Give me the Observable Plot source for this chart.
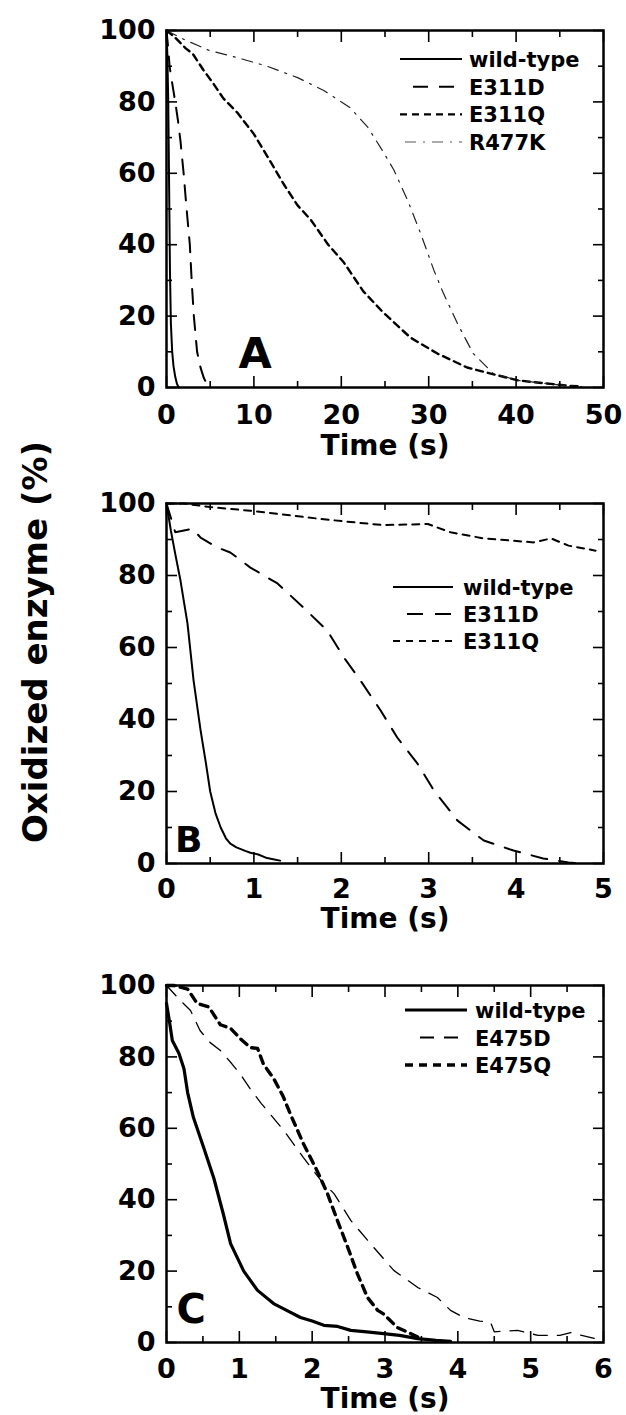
<!DOCTYPE html>
<html><head><meta charset="utf-8">
<script src="https://cdn.jsdelivr.net/npm/d3@7"></script>
<script src="https://cdn.jsdelivr.net/npm/@observablehq/plot@0.6"></script>
<style>
body{margin:0;background:#fff;}
#page{position:relative;width:626px;height:1415px;font-family:"DejaVu Sans",Verdana,sans-serif;font-weight:bold;background:#fff;}
.panel{position:absolute;left:0;}
#ylab{position:absolute;left:35px;top:642px;transform:translate(-50%,-50%) rotate(-90deg);white-space:nowrap;font-size:34px;font-weight:bold;color:#000;}
#legend{position:absolute;left:0;top:0;pointer-events:none;}
</style></head><body><div id="page"></div>
<script>
// ---------- DATA ----------
// Panel A (time in s, oxidized enzyme %)
const seriesA = ["wild-type", "E311D", "E311Q", "R477K"];
const tA_wt = [0, 0.1, 0.2, 0.3, 0.4, 0.5, 0.65, 0.8, 1.0, 1.2, 1.4];
const vA_wt = [100, 93, 80, 56, 32, 18, 10, 6, 3, 1, 0];
const tA_D = [0, 0.2, 0.35, 0.6, 0.8, 1.0, 1.3, 1.6, 1.96, 2.3, 2.67, 2.9, 3.13, 3.5, 3.9, 4.3, 4.65, 4.9];
const vA_D = [100, 95, 90, 86, 83, 80, 75, 69, 60, 50, 40, 29, 20, 10, 5.5, 2.5, 1, 0];
const tA_Q = [0, 1, 2.2, 3, 4.2, 5.4, 6.5, 8.1, 10, 12.2, 13.4, 15, 16.5, 18.5, 20.3, 22.5, 24.8, 27.9, 31, 34.4, 37.9, 40.2, 42, 44, 46, 47.5];
const vA_Q = [100, 98, 95, 93.5, 89, 85, 81, 77, 71, 62, 57, 51, 47, 40, 35, 27, 21, 14, 9.5, 5.6, 3.4, 2, 1.5, 1, 0.5, 0.3];
const tA_K = [0, 2, 4.8, 8.1, 11.5, 15, 18, 21, 23, 24.8, 26, 27.6, 29.1, 30.6, 31.7, 33.3, 35.1, 37.4, 40.2, 43, 46, 47.5];
const vA_K = [100, 97.5, 94.5, 92.4, 90, 86.8, 83.2, 78.4, 73, 66, 61, 52.4, 43, 32.8, 26.3, 17.9, 9.5, 3.9, 2, 1.2, 0.5, 0.2];

// Panel B
const seriesB = ["wild-type", "E311D", "E311Q"];
const tB_wt = [0, 0.05, 0.1, 0.16, 0.24, 0.31, 0.39, 0.45, 0.5, 0.56, 0.62, 0.68, 0.73, 0.8, 0.9, 0.96, 1.05, 1.15, 1.22, 1.3];
const vB_wt = [100, 92.5, 86, 78.6, 66.7, 50.8, 37, 28, 20, 14, 10, 7, 5.5, 4.5, 3.5, 3, 2.5, 1.5, 1.2, 0.8];
const tB_D = [0, 0.05, 0.1, 0.2, 0.3, 0.39, 0.58, 0.73, 0.96, 1.27, 1.57, 1.84, 2.03, 2.22, 2.45, 2.64, 2.87, 3.06, 3.33, 3.63, 3.97, 4.31, 4.6, 4.75];
const vB_D = [100, 96, 92, 92.5, 93, 90.5, 87.8, 86.4, 82.2, 77.8, 71, 64.7, 57.2, 50.8, 42.5, 35, 27.8, 20.3, 11.9, 6.4, 3.6, 1.4, 0.3, 0];
const tB_Q = [0, 0.2, 0.5, 0.96, 1.8, 2.48, 2.99, 3.25, 3.63, 4.2, 4.4, 4.6, 4.91];
const vB_Q = [100, 100, 99, 98, 95.6, 94, 94.3, 92, 90.3, 89.2, 90.3, 88.3, 86.9];

// Panel C
const seriesC = ["wild-type", "E475D", "E475Q"];
const tC_wt = [0, 0.04, 0.08, 0.17, 0.24, 0.29, 0.37, 0.51, 0.65, 0.78, 0.88, 1.06, 1.25, 1.47, 1.65, 1.84, 2.0, 2.16, 2.35, 2.53, 2.75, 2.98, 3.2, 3.45, 3.7, 3.9];
const vC_wt = [95, 90, 84.6, 81, 76.7, 70, 63, 54.6, 46, 36, 27.7, 20, 14.6, 10.9, 9, 7, 6, 4.8, 4.5, 3.4, 3, 2.5, 2, 1.1, 0.6, 0.3];
const tC_D = [0, 0.19, 0.33, 0.46, 0.6, 0.74, 0.9, 1.02, 1.15, 1.3, 1.61, 1.88, 2.12, 2.3, 2.53, 2.8, 3.12, 3.45, 3.72, 3.9, 4.08, 4.3, 4.45, 4.5, 4.82, 5.1, 5.4, 5.55, 5.7, 6.0];
const vC_D = [100, 95.8, 93, 87.4, 84, 81.8, 78, 75, 71, 67, 59.4, 51.8, 45.4, 41.7, 34.2, 27.7, 20.2, 15.4, 12.6, 9, 7, 6, 5.6, 3, 3.4, 2, 2, 2.8, 2, 0.5];
const tC_Q = [0, 0.1, 0.29, 0.42, 0.58, 0.74, 0.88, 1.02, 1.15, 1.25, 1.33, 1.47, 1.6, 1.7, 1.88, 2.07, 2.21, 2.35, 2.49, 2.62, 2.76, 2.9, 2.98, 3.17, 3.35, 3.45];
const vC_Q = [100, 100, 99, 95, 94, 89, 88, 85, 82.6, 82.4, 78, 74, 69, 64, 55.7, 48, 41.7, 34, 26.6, 19.3, 12.6, 9, 8, 4.2, 2.5, 1.5];

// Axis ticks
const yMajor = [0, 20, 40, 60, 80, 100];
const yMinor = [10, 30, 50, 70, 90];
const xMajorA = [0, 10, 20, 30, 40, 50];
const xMinorA = [5, 15, 25, 35, 45];
const xMajorB = [0, 1, 2, 3, 4, 5];
const xMinorB = [0.5, 1.5, 2.5, 3.5, 4.5];
const xMajorC = [0, 1, 2, 3, 4, 5, 6];
const xMinorC = [0.5, 1.5, 2.5, 3.5, 4.5, 5.5];
const xTitle = "Time (s)";
const yTitle = "Oxidized enzyme (%)";
const letters = ["A", "B", "C"];

// ---------- STYLES / LAYOUT ----------
const pts = (ts, vs) => ts.map((t, i) => ({t, v: vs[i]}));
const FONT = "DejaVu Sans, Verdana, sans-serif";
const W = 626, ML = 166, MR = 23;

const panels = [
  {top: 0, height: 470, mt: 30, mb: 83, xmax: 50, xMajor: xMajorA, xMinor: xMinorA, xPad: 17, titleDy: 48,
   letter: letters[0], letterSize: 43, letterDx: 72, letterDy: -50.5,
   names: seriesA,
   lines: [
     {data: pts(tA_wt, vA_wt), stroke: "#000", w: 2, dash: null},
     {data: pts(tA_D, vA_D), stroke: "#000", w: 2, dash: "15,11"},
     {data: pts(tA_Q, vA_Q), stroke: "#000", w: 2.4, dash: "7,5"},
     {data: pts(tA_K, vA_K), stroke: "#222", w: 1.2, dash: "11,7,2,7", legendStroke: "#aaa", legendW: 2}
   ],
   legend: {x1: 400, x2: 462, tx: 469, y0: 59, dy: 27.7, size: 21, offs: [0, 13, 0, 5]}},
  {top: 470, height: 470, mt: 33, mb: 77, xmax: 5, xMajor: xMajorB, xMinor: xMinorB, xPad: 15, titleDy: 45,
   letter: letters[1], letterSize: 36, letterDx: 8.5, letterDy: -36.6,
   names: seriesB,
   lines: [
     {data: pts(tB_wt, vB_wt), stroke: "#000", w: 2, dash: null},
     {data: pts(tB_D, vB_D), stroke: "#000", w: 2, dash: "16,12"},
     {data: pts(tB_Q, vB_Q), stroke: "#000", w: 2, dash: "7,6"}
   ],
   legend: {x1: 393, x2: 453, tx: 463, y0: 587, dy: 27, size: 21, offs: [0, 14, 0]}},
  {top: 940, height: 475, mt: 45, mb: 73, xmax: 6, xMajor: xMajorC, xMinor: xMinorC, xPad: 16, titleDy: 46,
   letter: letters[2], letterSize: 40, letterDx: 10, letterDy: -48.4,
   names: seriesC,
   lines: [
     {data: pts(tC_wt, vC_wt), stroke: "#000", w: 3.2, dash: null},
     {data: pts(tC_D, vC_D), stroke: "#000", w: 1.3, dash: "14,10"},
     {data: pts(tC_Q, vC_Q), stroke: "#000", w: 3.4, dash: "8,6"}
   ],
   legend: {x1: 405, x2: 467, tx: 475, y0: 1010, dy: 27.5, size: 21, offs: [0, 15, 0]}}
];

const page = document.getElementById("page");
const fmt = d => String(d);

for (const p of panels) {
  const tickStyle = {strokeWidth: 1.6, tickFormat: () => "", label: null};
  const chart = Plot.plot({
    width: W, height: p.height,
    marginLeft: ML, marginRight: MR, marginTop: p.mt, marginBottom: p.mb,
    style: {fontFamily: FONT, fontWeight: "bold", background: "transparent", overflow: "visible"},
    x: {domain: [0, p.xmax]},
    y: {domain: [0, 100]},
    marks: [
      ...p.lines.map(l => Plot.line(l.data, {x: "t", y: "v", stroke: l.stroke, strokeWidth: l.w, strokeDasharray: l.dash, strokeLinejoin: "round"})),
      Plot.axisX({anchor: "bottom", ticks: p.xMajor, tickSize: -11, ...tickStyle}),
      Plot.axisX({anchor: "bottom", ticks: p.xMinor, tickSize: -6, ...tickStyle}),
      Plot.axisX({anchor: "top", ticks: p.xMajor, tickSize: -11, ...tickStyle}),
      Plot.axisX({anchor: "top", ticks: p.xMinor, tickSize: -6, ...tickStyle}),
      Plot.axisY({anchor: "left", ticks: yMajor, tickSize: -11, ...tickStyle}),
      Plot.axisY({anchor: "left", ticks: yMinor, tickSize: -6, ...tickStyle}),
      Plot.axisY({anchor: "right", ticks: yMajor, tickSize: -11, ...tickStyle}),
      Plot.axisY({anchor: "right", ticks: yMinor, tickSize: -6, ...tickStyle}),
      Plot.axisX({anchor: "bottom", ticks: p.xMajor, tickFormat: fmt, tickSize: 0, tickPadding: p.xPad, fontSize: 27, fontWeight: "bold", label: null, fill: "#000"}),
      Plot.axisY({anchor: "left", ticks: yMajor, tickFormat: fmt, tickSize: 0, tickPadding: 11, fontSize: 27, fontWeight: "bold", label: null, fill: "#000"}),
      Plot.text([xTitle], {frameAnchor: "bottom", dy: p.titleDy, lineAnchor: "top", fontSize: 28, fontWeight: "bold", fill: "#000"}),
      Plot.text([p.letter], {frameAnchor: "bottom-left", dx: p.letterDx, dy: p.letterDy, lineAnchor: "top", textAnchor: "start", fontSize: p.letterSize, fontWeight: "bold", fill: "#000"}),
      Plot.frame({stroke: "#000", strokeWidth: 2.5})
    ]
  });
  chart.classList.add("panel");
  chart.style.top = p.top + "px";
  page.appendChild(chart);
}

// Legends (overlay)
const svg = d3.select(page).append("svg").attr("id", "legend").attr("width", W).attr("height", 1415);
for (const p of panels) {
  const L = p.legend;
  p.names.forEach((name, i) => {
    const s = p.lines[i];
    const y = L.y0 + i * L.dy;
    svg.append("line")
      .attr("x1", L.x1 + (L.offs[i] || 0)).attr("x2", L.x2).attr("y1", y).attr("y2", y)
      .attr("stroke", s.legendStroke || s.stroke)
      .attr("stroke-width", s.legendW || Math.max(s.w, 1.8))
      .attr("stroke-dasharray", s.dash);
    svg.append("text")
      .attr("x", L.tx).attr("y", y + 8)
      .attr("font-family", FONT).attr("font-weight", "bold").attr("font-size", L.size)
      .attr("fill", "#000")
      .text(name);
  });
}

// Shared y-axis title
const yl = document.createElement("div");
yl.id = "ylab";
yl.textContent = yTitle;
page.appendChild(yl);
</script></body></html>
